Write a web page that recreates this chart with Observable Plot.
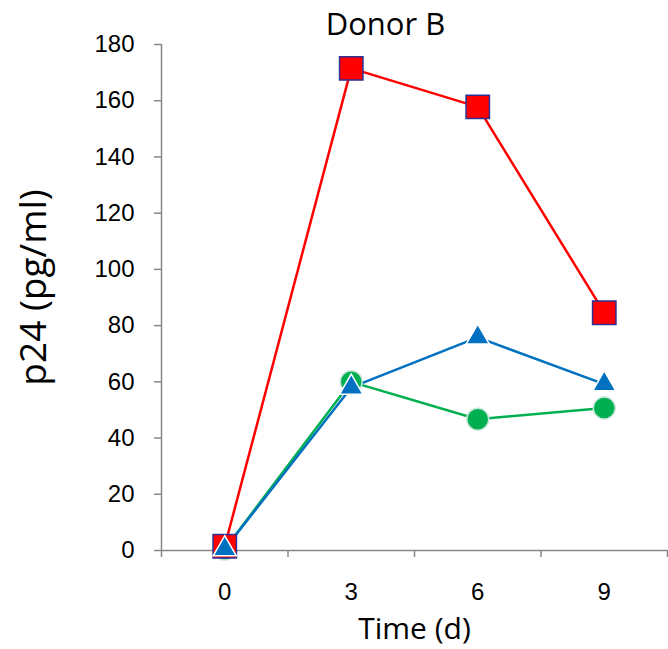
<!DOCTYPE html>
<html>
<head>
<meta charset="utf-8">
<script src="https://cdn.jsdelivr.net/npm/d3@7"></script>
<script src="https://cdn.jsdelivr.net/npm/@observablehq/plot@0.6"></script>
<style>
  body { margin: 0; background: #fff; }
  svg { display: block; }
</style>
</head>
<body>
<div id="chart"></div>
<script>
const title = "Donor B";
const days = [0, 3, 6, 9];
const redSeries = [1.5, 171.5, 157.8, 84.6];
const greenSeries = [0.5, 60.0, 46.7, 50.7];
const blueSeries = [0.5, 58.0, 75.8, 59.2];
const yTicks = [0, 20, 40, 60, 80, 100, 120, 140, 160, 180];
const xLabels = ["0", "3", "6", "9"];
const xBoundaries = [-1.5, 1.5, 4.5, 7.5, 10.5];

const toRows = (vals) => days.map((d, i) => ({day: d, value: vals[i]}));
const red = toRows(redSeries), green = toRows(greenSeries), blue = toRows(blueSeries);

const axisColor = "#868686";
const tickFont = "'Liberation Sans', Arial, sans-serif";
const labelFont = "'Open Sans', Lato, sans-serif";

const chart = Plot.plot({
  width: 668,
  height: 649,
  marginTop: 44,
  marginBottom: 99,
  marginLeft: 161,
  marginRight: 1,
  x: {type: "linear", domain: [-1.5, 10.5]},
  y: {domain: [0, 180]},
  marks: [
    Plot.axisY({ticks: yTicks, tickSize: 7, tickPadding: 20, stroke: axisColor, strokeWidth: 1.5, fill: "#000", fontSize: 24, fontFamily: tickFont, label: null}),
    Plot.axisX({ticks: xBoundaries, tickSize: 7, tickFormat: () => "", stroke: axisColor, strokeWidth: 1.5, label: null}),
    Plot.axisX({ticks: days, tickSize: 0, tickPadding: 32, tickFormat: (d, i) => xLabels[i], fill: "#000", fontSize: 24, fontFamily: tickFont, label: null}),
    Plot.ruleX([-1.5], {stroke: axisColor, strokeWidth: 1.5}),
    Plot.ruleY([0], {stroke: axisColor, strokeWidth: 1.5}),
    Plot.line(red, {x: "day", y: "value", stroke: "#FF0000", strokeWidth: 2.5}),
    Plot.line(green, {x: "day", y: "value", stroke: "#00B050", strokeWidth: 2.5}),
    Plot.line(blue, {x: "day", y: "value", stroke: "#0070C0", strokeWidth: 2.5}),
    Plot.dot(green, {x: "day", y: "value", symbol: "circle", r: 11, fill: "#00B050", stroke: "#C9E7DA", strokeWidth: 1.5}),
    Plot.dot(red, {x: "day", y: "value", symbol: "square", r: 13.2, fill: "#FF0000", stroke: "#2E3192", strokeWidth: 1.5}),
    Plot.dot(blue, {x: "day", y: "value", symbol: "triangle", r: 8.6, fill: "#0070C0", stroke: "#FFFFFF", strokeWidth: 1.5}),
    Plot.text([title], {frameAnchor: "top", lineAnchor: "middle", textAnchor: "middle", dx: -29, dy: -19, fontSize: 31, fontFamily: labelFont, fill: "#000"}),
    Plot.text(["p24 (pg/ml)"], {frameAnchor: "left", lineAnchor: "middle", textAnchor: "middle", rotate: -90, dx: -127, dy: -10, fontSize: 37, fontFamily: labelFont, fill: "#000"}),
    Plot.text(["Time (d)"], {frameAnchor: "bottom", lineAnchor: "middle", textAnchor: "middle", dy: 79, fontSize: 30, fontFamily: labelFont, fill: "#000"})
  ]
});
document.getElementById("chart").appendChild(chart);
</script>
</body>
</html>
